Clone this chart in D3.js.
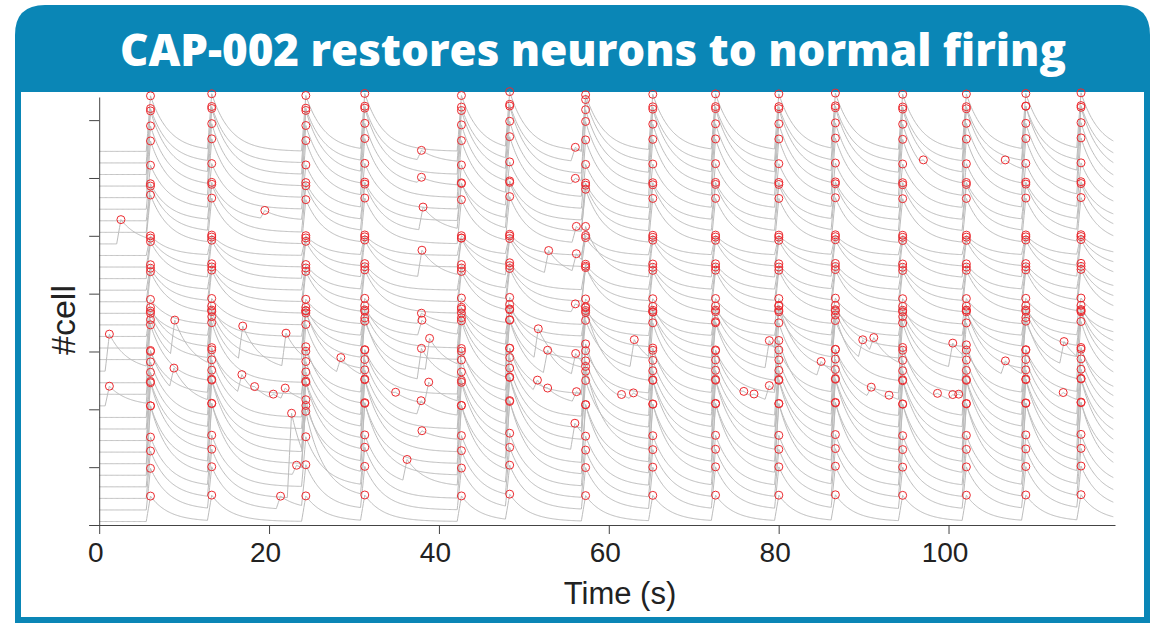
<!DOCTYPE html>
<html>
<head>
  <meta charset="utf-8">
  <title>CAP-002 restores neurons to normal firing</title>
  <script src="https://d3js.org/d3.v7.min.js"></script>
  <style>
    body { margin: 0; background: #fff; }
    svg { display: block; }
  </style>
</head>
<body>
<svg id="canvas"></svg>
<script>

// population burst times (s), peak of the transient
var burstTimes = [6.04, 13.25, 24.33, 31.27, 42.65, 48.33, 57.27, 65.18, 72.57, 80.02, 86.68, 94.6, 102.1, 109.1, 115.6];

// burst amplitude per cell (in cell units), cell 0 = bottom trace
var cellAmp = [2.2, 3.6, 4.1, 4.3, 6.0, 5.0, 6.0, 5.1, 4.9, 4.8, 4.6, 3.7, 5.0, 4.1, 4.0, 3.5, 2.2,
               2.2, 3.6, 2.9, 2.2, 3.2, 2.5, 1.7, 3.8, 4.0, 3.2, 3.8, 4.9, 5.2, 5.5, 4.7, 4.8];

// spontaneous events: [cell, time (s), amplitude]
var spontaneous = [
  [13, 1.2, 3.2], [13, 8.9, 3.2], [13, 16.9, 3.0], [13, 22.0, 2.9], [13, 38.9, 2.7], [13, 51.7, 2.7],
  [13, 63.0, 2.4], [13, 78.9, 2.4], [13, 89.9, 1.7], [13, 91.2, 1.4], [13, 100.5, 2.1], [13, 113.6, 2.0],
  [10, 1.2, 1.7], [10, 8.8, 1.9], [10, 16.8, 1.7], [10, 18.3, 0.3], [10, 20.5, 0.4], [10, 21.9, 1.0],
  [10, 34.9, 0.25], [10, 38.8, 1.85], [10, 51.6, 1.1], [10, 52.8, 0.25], [10, 56.2, 0.9], [10, 61.5, 0.2],
  [10, 62.9, 0.6], [10, 75.9, 0.2], [10, 77.1, 0.3], [10, 78.9, 1.3], [10, 90.9, 0.9], [10, 93.0, 0.3],
  [10, 98.7, 0.3], [10, 100.5, 0.5], [10, 101.2, 0.3], [10, 113.5, 0.5],
  [12, 28.45, 1.4], [12, 37.94, 2.7], [12, 52.8, 2.1], [12, 56.1, 1.9], [12, 85.0, 1.3], [12, 106.7, 1.25],
  [24, 2.56, 2.1], [26, 19.5, 0.7],
  [31, 37.94, 0.85], [29, 37.94, 0.5], [25, 38.13, 2.0], [21, 38.0, 2.3], [17, 37.94, 0.9], [16, 38.0, 1.3],
  [9, 37.9, 1.2], [7, 38.0, 0.6], [3, 36.25, 1.9],
  [31, 56.06, 1.2], [29, 56.06, 0.5], [24, 56.18, 1.4], [21, 52.92, 2.0], [21, 56.18, 1.6], [18, 56.06, 0.7],
  [6, 56.01, 2.3],
  [2, 22.65, 7.3], [4, 23.24, 0.8], [1, 21.35, 1.1],
  [29, 97.04, 0.5], [30, 106.68, 0.55]
];

var xTicks = [0, 20, 40, 60, 80, 100];
var yTicks = [0, 5, 10, 15, 20, 25, 30, 35];
var tMax = 119.5;

var width = 1160, height = 625;
var blue = "#0a86b6";

var svg = d3.select("#canvas")
  .attr("width", width)
  .attr("height", height);

// frame + title banner
svg.append("rect")
  .attr("width", width).attr("height", height).attr("fill", "#fff");
svg.append("path")
  .attr("d", "M15,92 V35 Q15,5 45,5 H1120 Q1150,5 1150,35 V92 Z")
  .attr("fill", blue);
svg.append("rect").attr("x", 15).attr("y", 90).attr("width", 6).attr("height", 533).attr("fill", blue);
svg.append("rect").attr("x", 1144).attr("y", 90).attr("width", 6).attr("height", 533).attr("fill", blue);
svg.append("rect").attr("x", 15).attr("y", 617).attr("width", 1135).attr("height", 6).attr("fill", blue);

svg.append("text")
  .text("CAP-002 restores neurons to normal firing")
  .attr("x", 593)
  .attr("y", 66)
  .attr("text-anchor", "middle")
  .attr("textLength", 946)
  .attr("lengthAdjust", "spacingAndGlyphs")
  .style("font-family", "'Open Sans', Lato, sans-serif")
  .style("font-weight", "800")
  .style("font-size", "45px")
  .style("fill", "#fff");

var x = d3.scaleLinear().domain([-1.2, 119.6]).range([89, 1115]);
var y = d3.scaleLinear().domain([0, 37]).range([525, 97]);

// transient shape: fast linear rise, exponential decay
var rise = 0.5, tau = 2.2;
function kernel(dt) {
  if (dt < -rise) return 0;
  if (dt <= 0) return 1 + dt / rise;
  return Math.exp(-dt / tau);
}

var nCells = cellAmp.length;
var cells = [];
for (var k = 0; k < nCells; k++) {
  var ev = burstTimes.map(function(t) { return [t, cellAmp[k]]; });
  spontaneous.forEach(function(s) { if (s[0] === k) ev.push([s[1], s[2]]); });
  cells.push({ k: k, events: ev });
}

function value(cell, t) {
  var v = cell.k + 0.3;
  cell.events.forEach(function(e) { v += e[1] * kernel(t - e[0]); });
  return v;
}

var plot = svg.append("g");
var line = d3.line()
  .x(function(d) { return x(d[0]); })
  .y(function(d) { return y(d[1]); });

cells.forEach(function(cell) {
  var ts = d3.range(0, tMax, 0.1);
  cell.events.forEach(function(e) { ts.push(e[0], e[0] - rise); });
  ts = ts.filter(function(t) { return t >= 0 && t <= tMax; }).sort(d3.ascending);
  var pts = ts.map(function(t) { return [t, value(cell, t)]; });
  plot.append("path")
    .attr("d", line(pts))
    .attr("fill", "none")
    .attr("stroke", "#bcbcbc")
    .attr("stroke-width", 1);
});

cells.forEach(function(cell) {
  plot.selectAll(null)
    .data(cell.events)
    .enter().append("circle")
    .attr("cx", function(e) { return x(e[0]); })
    .attr("cy", function(e) { return y(value(cell, e[0])); })
    .attr("r", 4)
    .attr("fill", "none")
    .attr("stroke", "#ec2a2f")
    .attr("stroke-width", 1);
});

// axes
var xAxis = svg.append("g")
  .attr("transform", "translate(0,525)")
  .call(d3.axisBottom(x).tickValues(xTicks).tickSize(9).tickSizeOuter(0).tickPadding(8));
xAxis.select(".domain").attr("stroke", "#444");
xAxis.selectAll(".tick line").attr("stroke", "#444");
xAxis.selectAll(".tick text")
  .attr("dx", "-4")
  .style("font-family", "'Liberation Sans', Arial, sans-serif")
  .style("font-size", "28px")
  .style("fill", "#222");

var yAxis = svg.append("g")
  .attr("transform", "translate(" + x(0) + ",0)")
  .call(d3.axisLeft(y).tickValues(yTicks).tickSize(10).tickSizeOuter(0).tickFormat(""));
yAxis.select(".domain").attr("stroke", "#444");
yAxis.selectAll(".tick line").attr("stroke", "#444");

svg.append("text")
  .text("Time (s)")
  .attr("x", 620)
  .attr("y", 604)
  .attr("text-anchor", "middle")
  .style("font-family", "'Liberation Sans', Arial, sans-serif")
  .style("font-size", "31px")
  .style("fill", "#222");

svg.append("text")
  .text("#cell")
  .attr("transform", "translate(75,320) rotate(-90)")
  .attr("text-anchor", "middle")
  .style("font-family", "'Liberation Sans', Arial, sans-serif")
  .style("font-size", "34px")
  .style("fill", "#222");

</script>
</body>
</html>
